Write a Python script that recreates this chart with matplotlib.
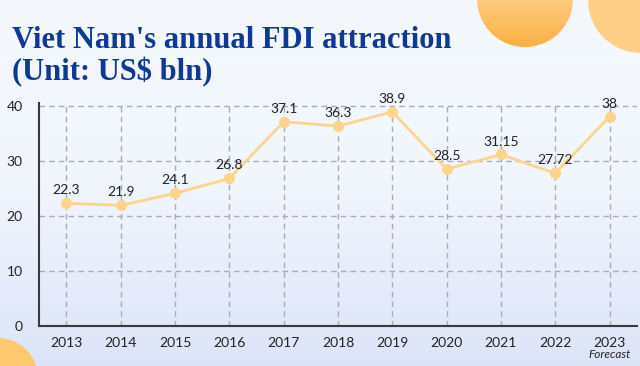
import numpy as np
import matplotlib
matplotlib.use("Agg")
import matplotlib.pyplot as plt
from matplotlib.patches import Circle
from matplotlib.colors import LinearSegmentedColormap

years = ["2013", "2014", "2015", "2016", "2017", "2018", "2019", "2020", "2021", "2022", "2023"]
values = [22.3, 21.9, 24.1, 26.8, 37.1, 36.3, 38.9, 28.5, 31.15, 27.72, 38]
value_labels = ["22.3", "21.9", "24.1", "26.8", "37.1", "36.3", "38.9", "28.5", "31.15", "27.72", "38"]
yticks = [0, 10, 20, 30, 40]

W, H = 640, 366
fig = plt.figure(figsize=(W / 100, H / 100), dpi=100)

# background
bg = fig.add_axes([0, 0, 1, 1], zorder=-10)
bg.set_xlim(0, W)
bg.set_ylim(H, 0)
bg.axis("off")
cmap = LinearSegmentedColormap.from_list("bg", ["#f5f9fe", "#f1f6fd", "#dce4f8"])
grad = np.linspace(0, 1, 256).reshape(-1, 1)
bg.imshow(grad, cmap=cmap, extent=[0, W, H, 0], aspect="auto")

# decorative circles
c1 = Circle((525, -1), 48, transform=bg.transData, lw=0, facecolor="none")
bg.add_patch(c1)
ccm = LinearSegmentedColormap.from_list("cc", ["#ffd594", "#fecd80", "#fbb040"])
im = bg.imshow(grad, cmap=ccm, extent=[477, 573, 47, -49], aspect="auto", zorder=2)
im.set_clip_path(c1)
bg.add_patch(Circle((641, 0), 53, color="#fecf86", lw=0, zorder=2))
bg.add_patch(Circle((-2, 378), 40, color="#fdc870", lw=0, zorder=2))

fig.text(12 / W, 1 - 48 / H, "Viet Nam's annual FDI attraction", fontsize=22,
         fontweight="bold", family="Liberation Serif", color="#0c3a95", va="baseline")
fig.text(12 / W, 1 - 80 / H, "(Unit: US$ bln)", fontsize=22,
         fontweight="bold", family="Liberation Serif", color="#0c3a95", va="baseline")

ax = fig.add_axes([39.3 / W, 1 - 326 / H, (636.7 - 39.3) / W, (326 - 103) / H])
ax.set_facecolor("none")
x = np.arange(len(years))
ax.plot(x, values, color="#fdd48c", lw=2, marker="o", ms=7, zorder=3)
for xi, v, lab in zip(x, values, value_labels):
    ax.annotate(lab, (xi, v), xytext=(0, 5), textcoords="offset points",
                ha="center", va="bottom", fontsize=10, family="Lato", color="#222222", zorder=4)
ax.set_xlim(-0.5, len(years) - 0.5)
ax.set_ylim(0, 40.5)
ax.set_xticks(x)
ax.set_xticklabels(years)
ax.set_yticks(yticks)
for lab in ax.get_xticklabels() + ax.get_yticklabels():
    lab.set_family("Lato")
    lab.set_fontsize(10)
    lab.set_color("#222222")
ax.tick_params(length=0, pad=8)
ax.tick_params(axis="y", pad=12)
ax.grid(True, ls=(0, (4, 3)), color="#a8acb4", lw=1)
ax.set_axisbelow(True)
for s in ["top", "right"]:
    ax.spines[s].set_visible(False)
for s in ["left", "bottom"]:
    ax.spines[s].set_color("#3a3a3a")
    ax.spines[s].set_linewidth(1.5)

fig.text(610 / W, 1 - 355 / H, "Forecast", fontsize=8.5, family="Lato", style="italic",
         color="#222222", ha="center", va="center")

fig.savefig("out.png", dpi=100)
